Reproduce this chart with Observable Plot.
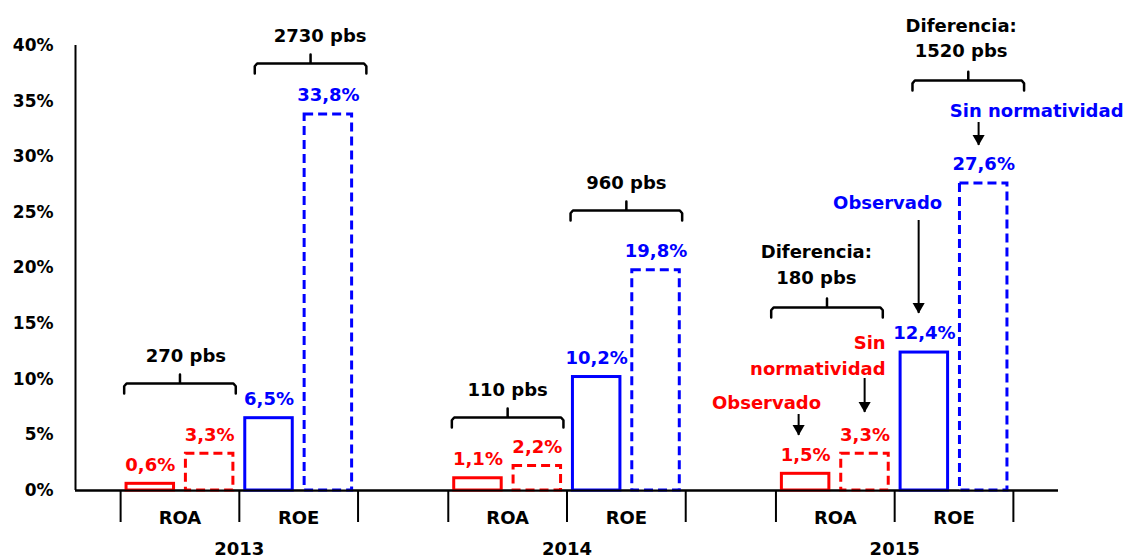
<!DOCTYPE html>
<html><head><meta charset="utf-8">
<script src="https://cdn.jsdelivr.net/npm/d3@7"></script>
<script src="https://cdn.jsdelivr.net/npm/@observablehq/plot@0.6"></script>
<style>body{margin:0;background:#fff}</style>
</head><body><div id="chart"></div>
<script>
// ---- data ----
const years = ["2013", "2014", "2015"];
const metrics = ["ROA", "ROE"];
const seriesNames = ["Observado", "Sin normatividad"];
const roaObservado = [0.6, 1.1, 1.5];
const roaSinNorm = [3.3, 2.2, 3.3];
const roeObservado = [6.5, 10.2, 12.4];
const roeSinNorm = [33.8, 19.8, 27.6];
const roaDiff = ["270 pbs", "110 pbs", "Diferencia:\n180 pbs"];
const roeDiff = ["2730 pbs", "960 pbs", "Diferencia:\n1520 pbs"];
const yTicks = [0, 5, 10, 15, 20, 25, 30, 35, 40];

// ---- layout (in x-scale units: one unit = one ROA/ROE category) ----
const GROUP0 = 0.38, GROUP_STEP = 2.76, X_MAX = 8.28;
const catStart = (g, m) => GROUP0 + g * GROUP_STEP + m;
const RED = "#ff0000", BLUE = "#0000ff";
const metricColor = [RED, BLUE];
const values = [[roaObservado, roaSinNorm], [roeObservado, roeSinNorm]];
const diffs = [roaDiff, roeDiff];

const bars = [];
years.forEach((yr, g) => metrics.forEach((mt, m) => seriesNames.forEach((s, k) => {
  const x1 = catStart(g, m) + (k ? 0.55 : 0.05);
  const v = values[m][k][g];
  bars.push({year: yr, metric: mt, series: s, k, x1, x2: x1 + 0.4, xm: x1 + 0.2, v,
    color: metricColor[m], label: v.toFixed(1).replace(".", ",") + "%"});
})));

const cats = [];
years.forEach((yr, g) => metrics.forEach((mt, m) => cats.push({x: catStart(g, m) + 0.5, text: mt})));
const yearLabels = years.map((yr, g) => ({x: catStart(g, 1), text: yr}));
const seps = [];
years.forEach((yr, g) => { for (let m = 0; m <= 2; m++) seps.push(catStart(g, m)); });

// bracket annotation layout
const bracketShift = [[0, 0, -0.07], [0.1, 0, 0.12]];
const bracketLevel = [[9.62, 6.56, 16.45], [38.38, 25.17, 36.85]];
const labelShift = [[0.05, 0, -0.09], [0.08, 0, -0.06]];
const brackets = [], bracketPts = [];
years.forEach((yr, g) => metrics.forEach((mt, m) => {
  const x1 = catStart(g, m) + 0.03 + bracketShift[m][g];
  const x2 = catStart(g, m) + 0.97 + bracketShift[m][g];
  const xm = (x1 + x2) / 2, y = bracketLevel[m][g];
  const id = yr + mt;
  const txt = diffs[m][g];
  const two = txt.includes("\n");
  brackets.push({x: xm + labelShift[m][g], y: y + (two ? 4.0 : 2.7), text: txt});
  const h = 0.9, t = 0.8;
  [[x1, y - h], [x1, y - 0.25], [x1 + 0.02, y], [xm, y], [xm, y + t], [xm, y],
   [x2 - 0.02, y], [x2, y - 0.25], [x2, y - h]].forEach(([px, py]) => bracketPts.push({id, x: px, y: py}));
}));

// 2015 arrow annotations
const arrows = [
  {x: 6.091, y1: 6.83, y2: 4.94},
  {x: 6.647, y1: 10.07, y2: 7.01},
  {x: 7.102, y1: 24.27, y2: 15.91},
  {x: 7.607, y1: 33.08, y2: 31.01}
];
const notes = [
  {x: 5.821, y: 7.82, text: "Observado", color: RED, anchor: "middle"},
  {x: 6.824, y: 12.3, text: "Sin\nnormatividad", color: RED, anchor: "end"},
  {x: 6.841, y: 25.8, text: "Observado", color: BLUE, anchor: "middle"},
  {x: 8.096, y: 34.07, text: "Sin normatividad", color: BLUE, anchor: "middle"}
];

const FONT = "'DejaVu Sans', 'Liberation Sans', sans-serif";
const plot = Plot.plot({
  width: 1130, height: 559,
  marginLeft: 75, marginRight: 72, marginTop: 45, marginBottom: 69,
  style: {fontFamily: FONT, fontWeight: "bold", fontSize: "17px", color: "#000", background: "#fff"},
  x: {domain: [0, X_MAX], axis: null},
  y: {domain: [0, 40], axis: null},
  color: {type: "identity"},
  marks: [
    Plot.axisY({ticks: yTicks, tickFormat: d => d + "%", tickSize: 0, tickPadding: 22, fontSize: 17, fontWeight: "bold", label: null}),
    Plot.axisX({ticks: seps, tickSize: 32, tickFormat: () => "", strokeWidth: 2, label: null}),
    Plot.ruleX([0], {y1: 0, y2: 40, strokeWidth: 2}),
    Plot.ruleY([0], {strokeWidth: 2}),
    Plot.rect(bars.filter(d => d.k === 0), {x1: "x1", x2: "x2", y1: 0, y2: "v", fill: "white", stroke: "color", strokeWidth: 3}),
    Plot.rect(bars.filter(d => d.k === 1), {x1: "x1", x2: "x2", y1: 0, y2: "v", fill: "white", stroke: "color", strokeWidth: 3, strokeDasharray: "9,5"}),
    Plot.ruleY([0], {strokeWidth: 2}),
    Plot.text(bars, {x: "xm", y: "v", text: "label", fill: "color", dy: -19, fontSize: 18, fontWeight: "bold"}),
    Plot.text(cats, {x: "x", y: 0, text: "text", dy: 28, fontSize: 18, fontWeight: "bold"}),
    Plot.text(yearLabels, {x: "x", y: 0, text: "text", dy: 59, fontSize: 18, fontWeight: "bold"}),
    Plot.line(bracketPts, {x: "x", y: "y", z: "id", stroke: "black", strokeWidth: 2.5, strokeLinejoin: "round", strokeLinecap: "round"}),
    Plot.text(brackets, {x: "x", y: "y", text: "text", fontSize: 18, fontWeight: "bold", lineHeight: 1.4}),
    Plot.ruleX(arrows, {x: "x", y1: "y1", y2: "y2", strokeWidth: 2, stroke: "black"}),
    Plot.dot(arrows, {x: "x", y: "y2", symbol: "triangle", rotate: 180, r: 4.5, fill: "black", stroke: "none", dy: -7}),
    Plot.text(notes.filter(d => d.anchor === "middle"), {x: "x", y: "y", text: "text", fill: "color", fontSize: 18, fontWeight: "bold"}),
    Plot.text(notes.filter(d => d.anchor === "end"), {x: "x", y: "y", text: "text", fill: "color", fontSize: 18, fontWeight: "bold", textAnchor: "end", lineHeight: 1.45})
  ]
});
document.getElementById("chart").appendChild(plot);
</script>
</body></html>
